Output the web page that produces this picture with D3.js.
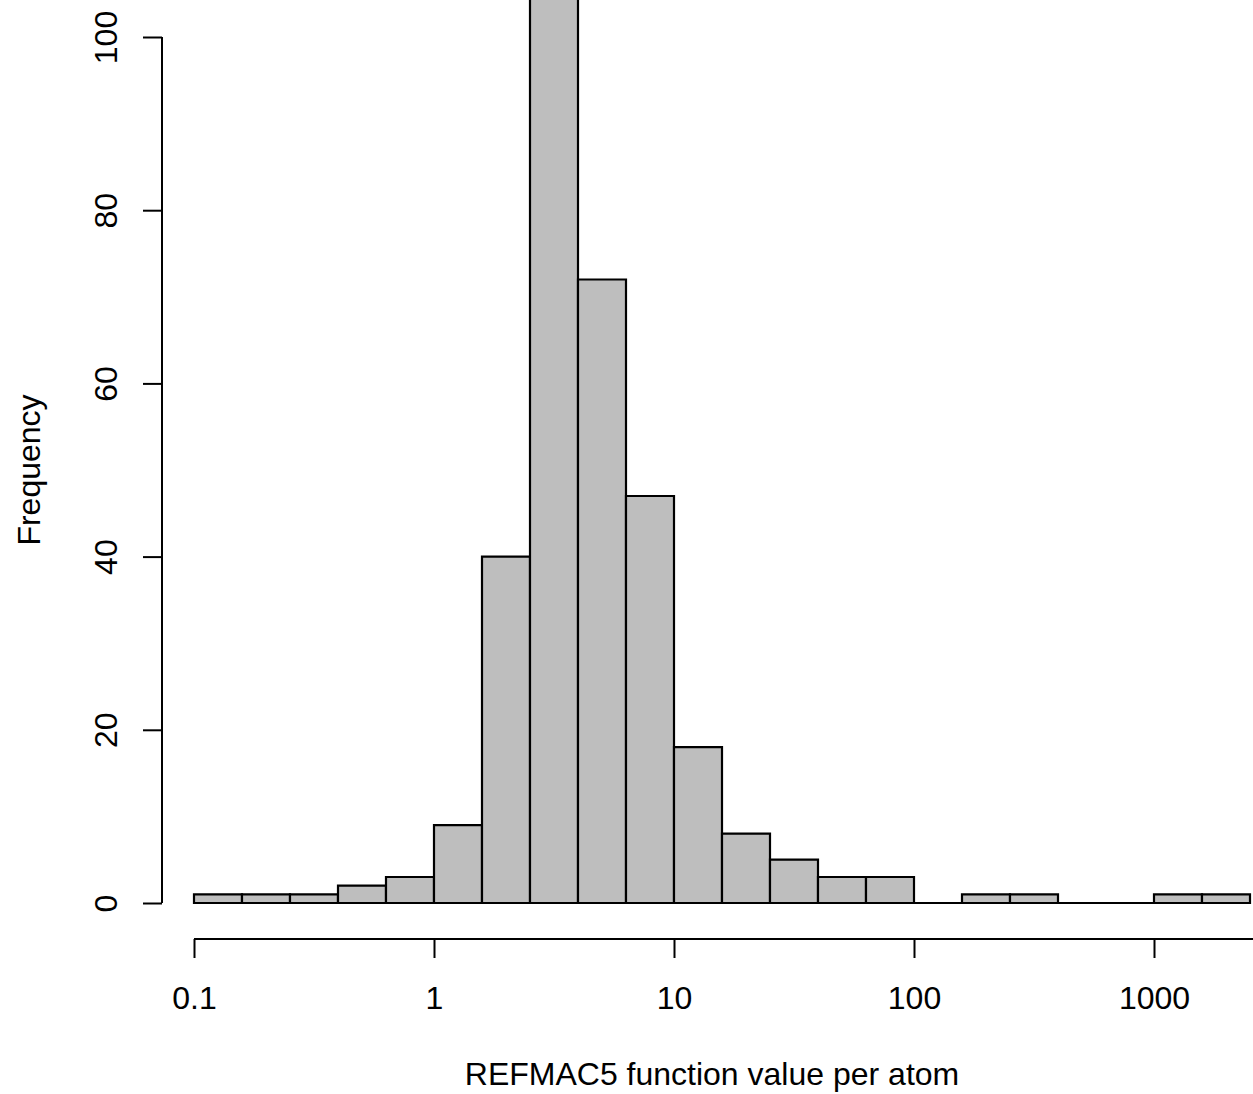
<!DOCTYPE html>
<html>
<head>
<meta charset="utf-8">
<script src="https://cdn.jsdelivr.net/npm/d3@7"></script>
<style>
  html, body { margin: 0; padding: 0; background: #fff; }
  svg { display: block; }
  text { font-family: "Liberation Sans", Arial, Helvetica, sans-serif; fill: #000; }
</style>
</head>
<body>
<svg id="chart" width="1253" height="1094"></svg>
<script>
// Histogram bin edges on a log10 scale (0.2-decade bins)
const binEdgesLog10 = [-1.0, -0.8, -0.6, -0.4, -0.2, 0.0, 0.2, 0.4, 0.6, 0.8, 1.0,
                       1.2, 1.4, 1.6, 1.8, 2.0, 2.2, 2.4, 2.6, 2.8, 3.0, 3.2, 3.4];
// Count of structures in each bin
const binCounts = [1, 1, 1, 2, 3, 9, 40, 112, 72, 47, 18, 8, 5, 3, 3, 0, 1, 1, 0, 0, 1, 1];
// Axis ticks
const xTickValues = [0.1, 1, 10, 100, 1000];
const xTickLabels = ["0.1", "1", "10", "100", "1000"];
const yTickValues = [0, 20, 40, 60, 80, 100];

const xLabel = "REFMAC5 function value per atom";
const yLabel = "Frequency";

const svg = d3.select("#chart");
const W = 1253, H = 1094;

// Scales: 240 px per decade, 0.1 sits at x = 194
const x = d3.scaleLog().domain([0.1, 1000]).range([194, 1154]);
const y = d3.scaleLinear().domain([0, 100]).range([903, 37]);
const axisY = 939;   // x-axis line position
const axisX = 162;   // y-axis line position

const bins = binCounts.map((c, i) => ({
  x0: Math.pow(10, binEdgesLog10[i]),
  x1: Math.pow(10, binEdgesLog10[i + 1]),
  count: c
}));

// Bars drawn as closed paths so that empty bins still show their outline on the baseline
svg.append("g")
  .selectAll("path")
  .data(bins)
  .join("path")
  .attr("d", d => {
    const p = d3.path();
    p.moveTo(x(d.x0), y(0));
    p.lineTo(x(d.x0), y(d.count));
    p.lineTo(x(d.x1), y(d.count));
    p.lineTo(x(d.x1), y(0));
    p.closePath();
    return p.toString();
  })
  .attr("fill", "#bebebe")
  .attr("stroke", "#000")
  .attr("stroke-width", 2.2)
  .attr("stroke-linejoin", "miter");

// X axis
const xAxis = d3.axisBottom(x)
  .tickValues(xTickValues)
  .tickFormat((d, i) => xTickLabels[i])
  .tickSize(19)
  .tickSizeOuter(0);

const gx = svg.append("g")
  .attr("transform", `translate(0,${axisY})`)
  .call(xAxis);
gx.select(".domain").remove();
gx.append("line")
  .attr("x1", x(0.1)).attr("x2", W + 20)
  .attr("y1", 0).attr("y2", 0)
  .attr("stroke", "#000").attr("stroke-width", 2);
gx.selectAll(".tick line").attr("stroke", "#000").attr("stroke-width", 2);
gx.selectAll(".tick text")
  .attr("y", 70).attr("dy", null)
  .attr("font-size", 32)
  .attr("font-family", "Liberation Sans, Arial, sans-serif")
  .attr("fill", "#000");

// Y axis
const yAxis = d3.axisLeft(y)
  .tickValues(yTickValues)
  .tickFormat(d3.format("d"))
  .tickSize(19)
  .tickSizeOuter(0);

const gy = svg.append("g")
  .attr("transform", `translate(${axisX},0)`)
  .call(yAxis);
gy.select(".domain").remove();
gy.append("line")
  .attr("x1", 0).attr("x2", 0)
  .attr("y1", y(100)).attr("y2", y(0))
  .attr("stroke", "#000").attr("stroke-width", 2);
gy.selectAll(".tick line").attr("stroke", "#000").attr("stroke-width", 2);
gy.selectAll(".tick text")
  .attr("x", null).attr("dy", null)
  .attr("text-anchor", "middle")
  .attr("transform", `translate(${117 - axisX},0) rotate(-90)`)
  .attr("font-size", 32)
  .attr("font-family", "Liberation Sans, Arial, sans-serif")
  .attr("fill", "#000");

// Axis titles
svg.append("text")
  .attr("x", 712)
  .attr("y", 1085)
  .attr("text-anchor", "middle")
  .attr("font-size", 32)
  .text(xLabel);

svg.append("text")
  .attr("transform", `translate(40,${(37 + 903) / 2}) rotate(-90)`)
  .attr("text-anchor", "middle")
  .attr("font-size", 32)
  .text(yLabel);
</script>
</body>
</html>
